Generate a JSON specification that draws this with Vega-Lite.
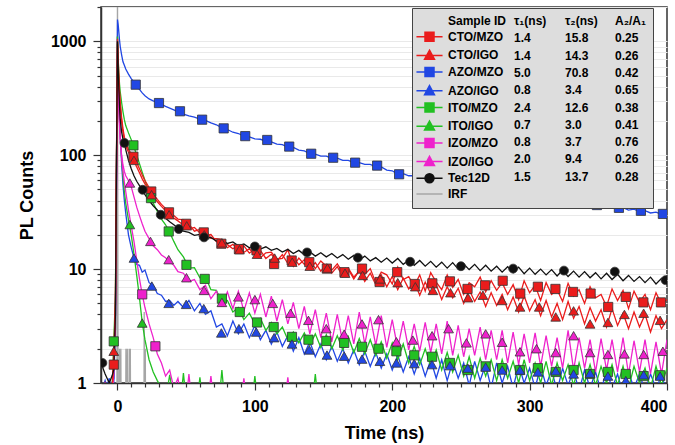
{
"$schema": "https://vega.github.io/schema/vega-lite/v6.json",
"width": 566, "height": 376,
"autosize": {"type": "none"},
"padding": {"left": 101, "top": 7, "right": 8, "bottom": 62},
"background": "white",
"config": {
  "font": "Liberation Sans",
  "view": {"stroke": "#333", "strokeWidth": 1.5},
  "legend": {"orient": "none", "direction": "vertical", "labelFont": "Liberation Sans", "labelFontSize": 12, "labelFontWeight": "bold", "labelColor": "#000", "padding": 7, "rowPadding": 5.3, "labelLimit": 400, "symbolSize": 81, "symbolStrokeWidth": 1.5, "labelOffset": 12.5}
},
"resolve": {"axis": {"x": "independent"}},
"datasets": {
"table": [
{"idx":1,"sample":"CTO/MZO","tau1":"1.4","tau2":"15.8","ratio":"0.25"},
{"idx":2,"sample":"CTO/IGO","tau1":"1.4","tau2":"14.3","ratio":"0.26"},
{"idx":3,"sample":"AZO/MZO","tau1":"5.0","tau2":"70.8","ratio":"0.42"},
{"idx":4,"sample":"AZO/IGO","tau1":"0.8","tau2":"3.4","ratio":"0.65"},
{"idx":5,"sample":"ITO/MZO","tau1":"2.4","tau2":"12.6","ratio":"0.38"},
{"idx":6,"sample":"ITO/IGO","tau1":"0.7","tau2":"3.0","ratio":"0.41"},
{"idx":7,"sample":"IZO/MZO","tau1":"0.8","tau2":"3.7","ratio":"0.76"},
{"idx":8,"sample":"IZO/IGO","tau1":"2.0","tau2":"9.4","ratio":"0.26"},
{"idx":9,"sample":"Tec12D","tau1":"1.5","tau2":"13.7","ratio":"0.28"},
{"idx":10,"sample":"IRF","tau1":"","tau2":"","ratio":""}
],
"markers": [
{"sample":"CTO/MZO","t":-2.7,"v":1.45},{"sample":"CTO/MZO","t":11.6,"v":97},{"sample":"CTO/MZO","t":24.6,"v":48},{"sample":"CTO/MZO","t":37.5,"v":31.5},{"sample":"CTO/MZO","t":50,"v":25},{"sample":"CTO/MZO","t":62.8,"v":21},{"sample":"CTO/MZO","t":75.6,"v":16.7},{"sample":"CTO/MZO","t":88.4,"v":15},{"sample":"CTO/MZO","t":101.2,"v":14.6},{"sample":"CTO/MZO","t":114,"v":11.1},{"sample":"CTO/MZO","t":126.8,"v":11.9},{"sample":"CTO/MZO","t":139.6,"v":11.5},{"sample":"CTO/MZO","t":152.4,"v":10.1},{"sample":"CTO/MZO","t":165.2,"v":9.4},{"sample":"CTO/MZO","t":178,"v":10.1},{"sample":"CTO/MZO","t":190.8,"v":7.7},{"sample":"CTO/MZO","t":203.6,"v":9.4},{"sample":"CTO/MZO","t":216.4,"v":7.4},{"sample":"CTO/MZO","t":229.2,"v":7.5},{"sample":"CTO/MZO","t":242,"v":7.8},{"sample":"CTO/MZO","t":254.8,"v":6.7},{"sample":"CTO/MZO","t":267.6,"v":7.2},{"sample":"CTO/MZO","t":280.4,"v":7.9},{"sample":"CTO/MZO","t":293.2,"v":6.1},{"sample":"CTO/MZO","t":306,"v":7.0},{"sample":"CTO/MZO","t":318.8,"v":6.7},{"sample":"CTO/MZO","t":331.6,"v":6.3},{"sample":"CTO/MZO","t":344.4,"v":6.1},{"sample":"CTO/MZO","t":357.2,"v":4.65},{"sample":"CTO/MZO","t":370,"v":5.7},{"sample":"CTO/MZO","t":382.8,"v":5.1},{"sample":"CTO/MZO","t":395.6,"v":5.1},
{"sample":"CTO/IGO","t":-2.7,"v":1.9},{"sample":"CTO/IGO","t":12,"v":90},{"sample":"CTO/IGO","t":24.8,"v":45},{"sample":"CTO/IGO","t":37.6,"v":30},{"sample":"CTO/IGO","t":50.4,"v":24},{"sample":"CTO/IGO","t":63.2,"v":20},{"sample":"CTO/IGO","t":76,"v":17},{"sample":"CTO/IGO","t":88.8,"v":14.8},{"sample":"CTO/IGO","t":101.6,"v":13.5},{"sample":"CTO/IGO","t":114.4,"v":12.5},{"sample":"CTO/IGO","t":127.2,"v":11.5},{"sample":"CTO/IGO","t":140,"v":10.6},{"sample":"CTO/IGO","t":152.8,"v":10.2},{"sample":"CTO/IGO","t":165.6,"v":9.2},{"sample":"CTO/IGO","t":178.4,"v":8.8},{"sample":"CTO/IGO","t":191.2,"v":8.2},{"sample":"CTO/IGO","t":204,"v":7.6},{"sample":"CTO/IGO","t":216.8,"v":7.0},{"sample":"CTO/IGO","t":229.6,"v":6.5},{"sample":"CTO/IGO","t":242.4,"v":6.2},{"sample":"CTO/IGO","t":255.2,"v":5.6},{"sample":"CTO/IGO","t":266,"v":5.9},{"sample":"CTO/IGO","t":280,"v":5.3},{"sample":"CTO/IGO","t":293,"v":4.65},{"sample":"CTO/IGO","t":307,"v":4.65},{"sample":"CTO/IGO","t":319,"v":3.8},{"sample":"CTO/IGO","t":332,"v":4.3},{"sample":"CTO/IGO","t":344,"v":3.3},{"sample":"CTO/IGO","t":357,"v":3.4},{"sample":"CTO/IGO","t":369,"v":4.0},{"sample":"CTO/IGO","t":383,"v":4.1},{"sample":"CTO/IGO","t":395,"v":3.55},
{"sample":"AZO/MZO","t":13.3,"v":416},{"sample":"AZO/MZO","t":30.2,"v":287},{"sample":"AZO/MZO","t":45.5,"v":243},{"sample":"AZO/MZO","t":61.6,"v":205},{"sample":"AZO/MZO","t":77.3,"v":172},{"sample":"AZO/MZO","t":93,"v":147},{"sample":"AZO/MZO","t":109,"v":136},{"sample":"AZO/MZO","t":125,"v":119},{"sample":"AZO/MZO","t":141,"v":103},{"sample":"AZO/MZO","t":157,"v":95},{"sample":"AZO/MZO","t":173,"v":86},{"sample":"AZO/MZO","t":189,"v":81},{"sample":"AZO/MZO","t":205,"v":68},{"sample":"AZO/MZO","t":221,"v":64},{"sample":"AZO/MZO","t":237,"v":60},{"sample":"AZO/MZO","t":253,"v":56},{"sample":"AZO/MZO","t":269,"v":52},{"sample":"AZO/MZO","t":285,"v":48},{"sample":"AZO/MZO","t":301,"v":45},{"sample":"AZO/MZO","t":317,"v":42},{"sample":"AZO/MZO","t":333,"v":39},{"sample":"AZO/MZO","t":349,"v":36.5},{"sample":"AZO/MZO","t":365,"v":34.5},{"sample":"AZO/MZO","t":381,"v":32.5},{"sample":"AZO/MZO","t":397,"v":30.5},
{"sample":"AZO/IGO","t":12,"v":12.5},{"sample":"AZO/IGO","t":25,"v":7.1},{"sample":"AZO/IGO","t":37.3,"v":5.0},{"sample":"AZO/IGO","t":50,"v":4.9},{"sample":"AZO/IGO","t":62.8,"v":4.5},{"sample":"AZO/IGO","t":75.6,"v":2.75},{"sample":"AZO/IGO","t":88.4,"v":3.0},{"sample":"AZO/IGO","t":101,"v":2.8},{"sample":"AZO/IGO","t":114,"v":2.5},{"sample":"AZO/IGO","t":127,"v":2.2},{"sample":"AZO/IGO","t":139.6,"v":1.95},{"sample":"AZO/IGO","t":152.5,"v":1.76},{"sample":"AZO/IGO","t":165,"v":1.72},{"sample":"AZO/IGO","t":178,"v":1.62},{"sample":"AZO/IGO","t":191,"v":1.55},{"sample":"AZO/IGO","t":203,"v":1.5},{"sample":"AZO/IGO","t":216,"v":1.48},{"sample":"AZO/IGO","t":229,"v":1.45},{"sample":"AZO/IGO","t":242,"v":1.42},{"sample":"AZO/IGO","t":255,"v":1.35},{"sample":"AZO/IGO","t":268,"v":1.38},{"sample":"AZO/IGO","t":280,"v":1.3},{"sample":"AZO/IGO","t":293,"v":1.3},{"sample":"AZO/IGO","t":306,"v":1.25},{"sample":"AZO/IGO","t":319,"v":1.28},{"sample":"AZO/IGO","t":332,"v":1.2},{"sample":"AZO/IGO","t":344,"v":1.22},{"sample":"AZO/IGO","t":357,"v":1.15},{"sample":"AZO/IGO","t":370,"v":1.05},{"sample":"AZO/IGO","t":383,"v":1.18},{"sample":"AZO/IGO","t":395,"v":1.15},
{"sample":"ITO/MZO","t":-2.7,"v":2.32},{"sample":"ITO/MZO","t":11.6,"v":122},{"sample":"ITO/MZO","t":24.4,"v":42},{"sample":"ITO/MZO","t":37.3,"v":21.4},{"sample":"ITO/MZO","t":50.2,"v":10.9},{"sample":"ITO/MZO","t":63.5,"v":8.2},{"sample":"ITO/MZO","t":76,"v":5.5},{"sample":"ITO/MZO","t":89,"v":4.2},{"sample":"ITO/MZO","t":101.6,"v":3.4},{"sample":"ITO/MZO","t":113.7,"v":3.1},{"sample":"ITO/MZO","t":127,"v":2.54},{"sample":"ITO/MZO","t":139,"v":2.4},{"sample":"ITO/MZO","t":152,"v":2.34},{"sample":"ITO/MZO","t":165,"v":2.25},{"sample":"ITO/MZO","t":178,"v":2.08},{"sample":"ITO/MZO","t":190,"v":2.0},{"sample":"ITO/MZO","t":203,"v":1.9},{"sample":"ITO/MZO","t":216,"v":1.75},{"sample":"ITO/MZO","t":229,"v":1.7},{"sample":"ITO/MZO","t":242,"v":1.5},{"sample":"ITO/MZO","t":255,"v":1.3},{"sample":"ITO/MZO","t":268,"v":1.4},{"sample":"ITO/MZO","t":280,"v":1.35},{"sample":"ITO/MZO","t":293,"v":1.3},{"sample":"ITO/MZO","t":306,"v":1.35},{"sample":"ITO/MZO","t":319,"v":1.25},{"sample":"ITO/MZO","t":332,"v":1.3},{"sample":"ITO/MZO","t":344,"v":1.2},{"sample":"ITO/MZO","t":357,"v":1.25},{"sample":"ITO/MZO","t":370,"v":1.2},{"sample":"ITO/MZO","t":383,"v":1.15},{"sample":"ITO/MZO","t":395,"v":1.17},
{"sample":"ITO/IGO","t":9,"v":24.6},{"sample":"ITO/IGO","t":18,"v":3.36},
{"sample":"IZO/MZO","t":18,"v":6.0},{"sample":"IZO/MZO","t":27.6,"v":2.1},
{"sample":"IZO/IGO","t":9,"v":57},{"sample":"IZO/IGO","t":24,"v":17.5},{"sample":"IZO/IGO","t":37.3,"v":12.1},{"sample":"IZO/IGO","t":50.2,"v":8.4},{"sample":"IZO/IGO","t":63,"v":6.5},{"sample":"IZO/IGO","t":76,"v":5.1},{"sample":"IZO/IGO","t":88,"v":5.7},{"sample":"IZO/IGO","t":100,"v":5.4},{"sample":"IZO/IGO","t":113,"v":5.0},{"sample":"IZO/IGO","t":126,"v":4.1},{"sample":"IZO/IGO","t":139,"v":3.55},{"sample":"IZO/IGO","t":152,"v":3.0},{"sample":"IZO/IGO","t":165,"v":2.68},{"sample":"IZO/IGO","t":178,"v":3.3},{"sample":"IZO/IGO","t":190,"v":3.6},{"sample":"IZO/IGO","t":203,"v":2.3},{"sample":"IZO/IGO","t":215,"v":2.38},{"sample":"IZO/IGO","t":229,"v":2.6},{"sample":"IZO/IGO","t":241,"v":3.0},{"sample":"IZO/IGO","t":254,"v":2.25},{"sample":"IZO/IGO","t":268,"v":2.7},{"sample":"IZO/IGO","t":280,"v":2.28},{"sample":"IZO/IGO","t":293,"v":1.88},{"sample":"IZO/IGO","t":305,"v":2.0},{"sample":"IZO/IGO","t":319,"v":1.85},{"sample":"IZO/IGO","t":332,"v":2.6},{"sample":"IZO/IGO","t":344,"v":1.85},{"sample":"IZO/IGO","t":357,"v":1.78},{"sample":"IZO/IGO","t":369,"v":1.8},{"sample":"IZO/IGO","t":383,"v":1.78},{"sample":"IZO/IGO","t":397,"v":1.9},
{"sample":"Tec12D","t":-11,"v":1.5},{"sample":"Tec12D","t":5.1,"v":128},{"sample":"Tec12D","t":18.3,"v":49.7},{"sample":"Tec12D","t":31.5,"v":30},{"sample":"Tec12D","t":44.6,"v":22.5},{"sample":"Tec12D","t":63,"v":19},{"sample":"Tec12D","t":100,"v":15.8},{"sample":"Tec12D","t":138,"v":14},{"sample":"Tec12D","t":175,"v":12.6},{"sample":"Tec12D","t":213,"v":11.6},{"sample":"Tec12D","t":250,"v":10.6},{"sample":"Tec12D","t":288,"v":10.1},{"sample":"Tec12D","t":325,"v":9.7},{"sample":"Tec12D","t":362,"v":9.5},{"sample":"Tec12D","t":399,"v":8.0}
],
"curves": [
{"sample":"IRF","t":-12,"v":0.7},{"sample":"IRF","t":-0.4,"v":0.7},{"sample":"IRF","t":0,"v":5000},{"sample":"IRF","t":0.4,"v":0.7},{"sample":"IRF","t":1.3,"v":0.7},{"sample":"IRF","t":1.45,"v":2},{"sample":"IRF","t":1.6,"v":0.7},{"sample":"IRF","t":2.3,"v":0.7},{"sample":"IRF","t":2.45,"v":2},{"sample":"IRF","t":2.6,"v":0.7},{"sample":"IRF","t":6.0,"v":0.7},{"sample":"IRF","t":6.15,"v":2},{"sample":"IRF","t":6.3,"v":0.7},{"sample":"IRF","t":7.0,"v":0.7},{"sample":"IRF","t":7.15,"v":2},{"sample":"IRF","t":7.3,"v":0.7},{"sample":"IRF","t":8.4,"v":0.7},{"sample":"IRF","t":8.55,"v":2},{"sample":"IRF","t":8.7,"v":0.7},{"sample":"IRF","t":9.2,"v":0.7},{"sample":"IRF","t":9.35,"v":2},{"sample":"IRF","t":9.5,"v":0.7},{"sample":"IRF","t":19.3,"v":0.7},{"sample":"IRF","t":19.45,"v":4.2},{"sample":"IRF","t":19.6,"v":0.7},{"sample":"IRF","t":20.1,"v":0.7},{"sample":"IRF","t":20.25,"v":2},{"sample":"IRF","t":20.4,"v":0.7},{"sample":"IRF","t":400,"v":0.7},

{"sample":"AZO/MZO","t":-12,"v":1.0},{"sample":"AZO/MZO","t":-9,"v":0.8},{"sample":"AZO/MZO","t":-6,"v":1.1},{"sample":"AZO/MZO","t":-4,"v":0.8},{"sample":"AZO/MZO","t":-2.7,"v":1.0},{"sample":"AZO/MZO","t":-1.5,"v":3},{"sample":"AZO/MZO","t":-0.7,"v":80},{"sample":"AZO/MZO","t":0,"v":1550},{"sample":"AZO/MZO","t":0.5,"v":1400},{"sample":"AZO/MZO","t":1,"v":1200},{"sample":"AZO/MZO","t":1.5,"v":1020},{"sample":"AZO/MZO","t":2,"v":900},{"sample":"AZO/MZO","t":3,"v":760},{"sample":"AZO/MZO","t":4,"v":660},{"sample":"AZO/MZO","t":5,"v":615},{"sample":"AZO/MZO","t":6,"v":570},{"sample":"AZO/MZO","t":8,"v":515},{"sample":"AZO/MZO","t":10,"v":470},{"sample":"AZO/MZO","t":12,"v":435},{"sample":"AZO/MZO","t":14,"v":405},{"sample":"AZO/MZO","t":16,"v":378},{"sample":"AZO/MZO","t":18,"v":352},{"sample":"AZO/MZO","t":20,"v":333},{"sample":"AZO/MZO","t":23,"v":312},{"sample":"AZO/MZO","t":26,"v":300},{"sample":"AZO/MZO","t":29,"v":291},{"sample":"AZO/MZO","t":32,"v":279},{"sample":"AZO/MZO","t":35,"v":268},{"sample":"AZO/MZO","t":38,"v":259},{"sample":"AZO/MZO","t":41,"v":250},{"sample":"AZO/MZO","t":44,"v":240},
{"sample":"AZO/MZO","t":48,"v":229},{"sample":"AZO/MZO","t":52,"v":221},{"sample":"AZO/MZO","t":56,"v":216},{"sample":"AZO/MZO","t":60,"v":207},{"sample":"AZO/MZO","t":64,"v":202},{"sample":"AZO/MZO","t":68,"v":192},{"sample":"AZO/MZO","t":72,"v":185},{"sample":"AZO/MZO","t":76,"v":174},{"sample":"AZO/MZO","t":80,"v":168},{"sample":"AZO/MZO","t":84,"v":159},{"sample":"AZO/MZO","t":88,"v":155},{"sample":"AZO/MZO","t":92,"v":147},{"sample":"AZO/MZO","t":96,"v":145},{"sample":"AZO/MZO","t":100,"v":139},{"sample":"AZO/MZO","t":104,"v":138},{"sample":"AZO/MZO","t":108,"v":133},{"sample":"AZO/MZO","t":112,"v":131},{"sample":"AZO/MZO","t":116,"v":125},{"sample":"AZO/MZO","t":120,"v":124},{"sample":"AZO/MZO","t":124,"v":118},{"sample":"AZO/MZO","t":128,"v":117},{"sample":"AZO/MZO","t":132,"v":111},{"sample":"AZO/MZO","t":136,"v":109},{"sample":"AZO/MZO","t":140,"v":103},{"sample":"AZO/MZO","t":144,"v":102},{"sample":"AZO/MZO","t":148,"v":98},{"sample":"AZO/MZO","t":152,"v":98},{"sample":"AZO/MZO","t":156,"v":94},{"sample":"AZO/MZO","t":160,"v":94},{"sample":"AZO/MZO","t":164,"v":90},{"sample":"AZO/MZO","t":168,"v":90},{"sample":"AZO/MZO","t":172,"v":86},{"sample":"AZO/MZO","t":176,"v":86},{"sample":"AZO/MZO","t":180,"v":83},{"sample":"AZO/MZO","t":184,"v":83},{"sample":"AZO/MZO","t":188,"v":79},{"sample":"AZO/MZO","t":192,"v":79},{"sample":"AZO/MZO","t":196,"v":74},{"sample":"AZO/MZO","t":200,"v":73},{"sample":"AZO/MZO","t":204,"v":68},{"sample":"AZO/MZO","t":208,"v":69},{"sample":"AZO/MZO","t":212,"v":66},{"sample":"AZO/MZO","t":216,"v":66},{"sample":"AZO/MZO","t":220,"v":63},{"sample":"AZO/MZO","t":224,"v":64},{"sample":"AZO/MZO","t":228,"v":61},{"sample":"AZO/MZO","t":232,"v":62},{"sample":"AZO/MZO","t":236,"v":59},{"sample":"AZO/MZO","t":240,"v":60},{"sample":"AZO/MZO","t":244,"v":57},{"sample":"AZO/MZO","t":248,"v":58},{"sample":"AZO/MZO","t":252,"v":55},{"sample":"AZO/MZO","t":256,"v":56},{"sample":"AZO/MZO","t":260,"v":53},{"sample":"AZO/MZO","t":264,"v":54},{"sample":"AZO/MZO","t":268,"v":51},{"sample":"AZO/MZO","t":272,"v":52},{"sample":"AZO/MZO","t":276,"v":49},{"sample":"AZO/MZO","t":280,"v":50},{"sample":"AZO/MZO","t":284,"v":47.5},{"sample":"AZO/MZO","t":288,"v":48.5},{"sample":"AZO/MZO","t":292,"v":45.8},{"sample":"AZO/MZO","t":296,"v":46.6},{"sample":"AZO/MZO","t":300,"v":44.3},{"sample":"AZO/MZO","t":304,"v":44.8},{"sample":"AZO/MZO","t":308,"v":42.9},{"sample":"AZO/MZO","t":312,"v":43.2},{"sample":"AZO/MZO","t":316,"v":41.4},{"sample":"AZO/MZO","t":320,"v":41.8},{"sample":"AZO/MZO","t":324,"v":39.9},{"sample":"AZO/MZO","t":328,"v":40.2},{"sample":"AZO/MZO","t":332,"v":38.5},{"sample":"AZO/MZO","t":336,"v":39.1},{"sample":"AZO/MZO","t":340,"v":37.0},{"sample":"AZO/MZO","t":344,"v":37.6},{"sample":"AZO/MZO","t":348,"v":36.0},{"sample":"AZO/MZO","t":352,"v":36.6},{"sample":"AZO/MZO","t":356,"v":35.0},{"sample":"AZO/MZO","t":360,"v":35.6},{"sample":"AZO/MZO","t":364,"v":34.0},{"sample":"AZO/MZO","t":368,"v":34.6},{"sample":"AZO/MZO","t":372,"v":33.0},{"sample":"AZO/MZO","t":376,"v":33.6},{"sample":"AZO/MZO","t":380,"v":32.0},{"sample":"AZO/MZO","t":384,"v":32.6},{"sample":"AZO/MZO","t":388,"v":31.1},{"sample":"AZO/MZO","t":392,"v":31.6},{"sample":"AZO/MZO","t":396,"v":30.2},{"sample":"AZO/MZO","t":400,"v":30.7},

{"sample":"AZO/IGO","t":-12,"v":0.8},{"sample":"AZO/IGO","t":-9,"v":1.05},{"sample":"AZO/IGO","t":-6,"v":0.8},{"sample":"AZO/IGO","t":-4,"v":1.0},{"sample":"AZO/IGO","t":-2.7,"v":1.1},{"sample":"AZO/IGO","t":-1.5,"v":4},{"sample":"AZO/IGO","t":-0.7,"v":90},{"sample":"AZO/IGO","t":0,"v":1100},{"sample":"AZO/IGO","t":0.5,"v":600},{"sample":"AZO/IGO","t":1,"v":350},{"sample":"AZO/IGO","t":1.5,"v":220},{"sample":"AZO/IGO","t":2,"v":150},{"sample":"AZO/IGO","t":3,"v":85},{"sample":"AZO/IGO","t":4,"v":55},{"sample":"AZO/IGO","t":5,"v":40},{"sample":"AZO/IGO","t":6,"v":31},{"sample":"AZO/IGO","t":8,"v":20},{"sample":"AZO/IGO","t":10,"v":15.5},{"sample":"AZO/IGO","t":12,"v":12.5},{"sample":"AZO/IGO","t":14,"v":11},{"sample":"AZO/IGO","t":16,"v":10.8},{"sample":"AZO/IGO","t":18,"v":9.4},{"sample":"AZO/IGO","t":20,"v":9.8},{"sample":"AZO/IGO","t":23,"v":7.6},{"sample":"AZO/IGO","t":26,"v":7.2},{"sample":"AZO/IGO","t":29,"v":6.1},{"sample":"AZO/IGO","t":32,"v":5.9},{"sample":"AZO/IGO","t":35,"v":5.2},{"sample":"AZO/IGO","t":38,"v":5.3},{"sample":"AZO/IGO","t":41,"v":4.8},{"sample":"AZO/IGO","t":44,"v":5.2},
{"sample":"AZO/IGO","t":48,"v":4.6},{"sample":"AZO/IGO","t":52,"v":5.3},{"sample":"AZO/IGO","t":56,"v":4.3},{"sample":"AZO/IGO","t":60,"v":5.0},{"sample":"AZO/IGO","t":64,"v":4.0},{"sample":"AZO/IGO","t":68,"v":4.3},{"sample":"AZO/IGO","t":72,"v":3.1},{"sample":"AZO/IGO","t":76,"v":3.3},{"sample":"AZO/IGO","t":80,"v":2.6},{"sample":"AZO/IGO","t":84,"v":3.5},{"sample":"AZO/IGO","t":88,"v":2.7},{"sample":"AZO/IGO","t":92,"v":3.3},{"sample":"AZO/IGO","t":96,"v":2.5},{"sample":"AZO/IGO","t":100,"v":3.2},{"sample":"AZO/IGO","t":104,"v":2.4},{"sample":"AZO/IGO","t":108,"v":2.9},{"sample":"AZO/IGO","t":112,"v":2.2},{"sample":"AZO/IGO","t":116,"v":2.8},{"sample":"AZO/IGO","t":120,"v":2.1},{"sample":"AZO/IGO","t":124,"v":2.6},{"sample":"AZO/IGO","t":128,"v":1.9},{"sample":"AZO/IGO","t":132,"v":2.5},{"sample":"AZO/IGO","t":136,"v":1.8},{"sample":"AZO/IGO","t":140,"v":2.3},{"sample":"AZO/IGO","t":144,"v":1.7},{"sample":"AZO/IGO","t":148,"v":2.2},{"sample":"AZO/IGO","t":152,"v":1.6},{"sample":"AZO/IGO","t":156,"v":2.1},{"sample":"AZO/IGO","t":160,"v":1.55},{"sample":"AZO/IGO","t":164,"v":2.0},{"sample":"AZO/IGO","t":168,"v":1.5},{"sample":"AZO/IGO","t":172,"v":1.95},{"sample":"AZO/IGO","t":176,"v":1.45},{"sample":"AZO/IGO","t":180,"v":1.9},{"sample":"AZO/IGO","t":184,"v":1.4},{"sample":"AZO/IGO","t":188,"v":1.85},{"sample":"AZO/IGO","t":192,"v":1.35},{"sample":"AZO/IGO","t":196,"v":1.8},{"sample":"AZO/IGO","t":200,"v":1.3},{"sample":"AZO/IGO","t":204,"v":1.75},{"sample":"AZO/IGO","t":208,"v":1.25},{"sample":"AZO/IGO","t":212,"v":1.7},{"sample":"AZO/IGO","t":216,"v":1.2},{"sample":"AZO/IGO","t":220,"v":1.65},{"sample":"AZO/IGO","t":224,"v":1.15},{"sample":"AZO/IGO","t":228,"v":1.6},{"sample":"AZO/IGO","t":232,"v":1.1},{"sample":"AZO/IGO","t":236,"v":1.6},{"sample":"AZO/IGO","t":240,"v":1.05},{"sample":"AZO/IGO","t":244,"v":1.55},{"sample":"AZO/IGO","t":248,"v":1.1},{"sample":"AZO/IGO","t":252,"v":1.5},{"sample":"AZO/IGO","t":256,"v":0.95},{"sample":"AZO/IGO","t":260,"v":1.55},{"sample":"AZO/IGO","t":264,"v":1.05},{"sample":"AZO/IGO","t":268,"v":1.45},{"sample":"AZO/IGO","t":272,"v":0.9},{"sample":"AZO/IGO","t":276,"v":1.5},{"sample":"AZO/IGO","t":280,"v":1.0},{"sample":"AZO/IGO","t":284,"v":1.4},{"sample":"AZO/IGO","t":288,"v":0.9},{"sample":"AZO/IGO","t":292,"v":1.45},{"sample":"AZO/IGO","t":296,"v":1.0},{"sample":"AZO/IGO","t":300,"v":1.35},{"sample":"AZO/IGO","t":304,"v":0.9},{"sample":"AZO/IGO","t":308,"v":1.4},{"sample":"AZO/IGO","t":312,"v":0.95},{"sample":"AZO/IGO","t":316,"v":1.3},{"sample":"AZO/IGO","t":320,"v":0.85},{"sample":"AZO/IGO","t":324,"v":1.35},{"sample":"AZO/IGO","t":328,"v":0.95},{"sample":"AZO/IGO","t":332,"v":1.3},{"sample":"AZO/IGO","t":336,"v":0.85},{"sample":"AZO/IGO","t":340,"v":1.3},{"sample":"AZO/IGO","t":344,"v":0.9},{"sample":"AZO/IGO","t":348,"v":1.25},{"sample":"AZO/IGO","t":352,"v":0.85},{"sample":"AZO/IGO","t":356,"v":1.3},{"sample":"AZO/IGO","t":360,"v":0.9},{"sample":"AZO/IGO","t":364,"v":1.2},{"sample":"AZO/IGO","t":368,"v":0.8},{"sample":"AZO/IGO","t":372,"v":1.25},{"sample":"AZO/IGO","t":376,"v":0.9},{"sample":"AZO/IGO","t":380,"v":1.2},{"sample":"AZO/IGO","t":384,"v":0.85},{"sample":"AZO/IGO","t":388,"v":1.2},{"sample":"AZO/IGO","t":392,"v":0.9},{"sample":"AZO/IGO","t":396,"v":1.15},{"sample":"AZO/IGO","t":400,"v":0.85},

{"sample":"ITO/IGO","t":-12,"v":0.7},{"sample":"ITO/IGO","t":-9,"v":0.8},{"sample":"ITO/IGO","t":-6,"v":0.7},{"sample":"ITO/IGO","t":-4,"v":0.8},{"sample":"ITO/IGO","t":-2.7,"v":1.3},{"sample":"ITO/IGO","t":-1.5,"v":3},{"sample":"ITO/IGO","t":-0.7,"v":60},{"sample":"ITO/IGO","t":0,"v":950},{"sample":"ITO/IGO","t":0.5,"v":500},{"sample":"ITO/IGO","t":1,"v":300},{"sample":"ITO/IGO","t":1.5,"v":200},{"sample":"ITO/IGO","t":2,"v":150},{"sample":"ITO/IGO","t":3,"v":95},{"sample":"ITO/IGO","t":4,"v":65},{"sample":"ITO/IGO","t":5,"v":48},{"sample":"ITO/IGO","t":6,"v":38},{"sample":"ITO/IGO","t":8,"v":27},{"sample":"ITO/IGO","t":10,"v":20},{"sample":"ITO/IGO","t":12,"v":13.5},{"sample":"ITO/IGO","t":14,"v":8.8},{"sample":"ITO/IGO","t":16,"v":5.6},{"sample":"ITO/IGO","t":18,"v":3.4},{"sample":"ITO/IGO","t":20,"v":2.4},{"sample":"ITO/IGO","t":23,"v":1.6},{"sample":"ITO/IGO","t":26,"v":1.25},{"sample":"ITO/IGO","t":29,"v":1.05},{"sample":"ITO/IGO","t":32,"v":0.9},{"sample":"ITO/IGO","t":35,"v":0.7},{"sample":"ITO/IGO","t":38,"v":1.18},{"sample":"ITO/IGO","t":41,"v":0.7},{"sample":"ITO/IGO","t":46,"v":0.7},{"sample":"ITO/IGO","t":48,"v":1.22},{"sample":"ITO/IGO","t":50,"v":0.7},{"sample":"ITO/IGO","t":58,"v":0.7},{"sample":"ITO/IGO","t":60,"v":1.12},{"sample":"ITO/IGO","t":62,"v":0.7},{"sample":"ITO/IGO","t":74,"v":0.7},{"sample":"ITO/IGO","t":76,"v":1.3},{"sample":"ITO/IGO","t":78,"v":0.7},{"sample":"ITO/IGO","t":98,"v":0.7},{"sample":"ITO/IGO","t":100,"v":1.15},{"sample":"ITO/IGO","t":102,"v":0.7},{"sample":"ITO/IGO","t":142,"v":0.7},{"sample":"ITO/IGO","t":144,"v":1.2},{"sample":"ITO/IGO","t":146,"v":0.7},{"sample":"ITO/IGO","t":400,"v":0.7},

{"sample":"IZO/MZO","t":-12,"v":0.7},{"sample":"IZO/MZO","t":-9,"v":0.7},{"sample":"IZO/MZO","t":-6,"v":0.8},{"sample":"IZO/MZO","t":-4,"v":0.7},{"sample":"IZO/MZO","t":-2.7,"v":1.2},{"sample":"IZO/MZO","t":-1.5,"v":3},{"sample":"IZO/MZO","t":-0.7,"v":50},{"sample":"IZO/MZO","t":0,"v":900},{"sample":"IZO/MZO","t":0.5,"v":450},{"sample":"IZO/MZO","t":1,"v":280},{"sample":"IZO/MZO","t":1.5,"v":190},{"sample":"IZO/MZO","t":2,"v":140},{"sample":"IZO/MZO","t":3,"v":95},{"sample":"IZO/MZO","t":4,"v":72},{"sample":"IZO/MZO","t":5,"v":58},{"sample":"IZO/MZO","t":6,"v":48},{"sample":"IZO/MZO","t":8,"v":33},{"sample":"IZO/MZO","t":10,"v":24},{"sample":"IZO/MZO","t":12,"v":17.5},{"sample":"IZO/MZO","t":14,"v":12},{"sample":"IZO/MZO","t":16,"v":8.2},{"sample":"IZO/MZO","t":18,"v":6.0},{"sample":"IZO/MZO","t":20,"v":4.6},{"sample":"IZO/MZO","t":23,"v":3.3},{"sample":"IZO/MZO","t":26,"v":2.5},{"sample":"IZO/MZO","t":29,"v":1.8},{"sample":"IZO/MZO","t":32,"v":1.5},{"sample":"IZO/MZO","t":35,"v":1.15},{"sample":"IZO/MZO","t":38,"v":1.3},{"sample":"IZO/MZO","t":41,"v":0.9},{"sample":"IZO/MZO","t":44,"v":1.1},{"sample":"IZO/MZO","t":47,"v":0.7},{"sample":"IZO/MZO","t":50,"v":0.7},{"sample":"IZO/MZO","t":52,"v":1.2},{"sample":"IZO/MZO","t":54,"v":0.7},{"sample":"IZO/MZO","t":66,"v":0.7},{"sample":"IZO/MZO","t":68,"v":1.15},{"sample":"IZO/MZO","t":70,"v":0.7},{"sample":"IZO/MZO","t":90,"v":0.7},{"sample":"IZO/MZO","t":92,"v":1.1},{"sample":"IZO/MZO","t":94,"v":0.7},{"sample":"IZO/MZO","t":122,"v":0.7},{"sample":"IZO/MZO","t":124,"v":1.12},{"sample":"IZO/MZO","t":126,"v":0.7},{"sample":"IZO/MZO","t":400,"v":0.7},

{"sample":"ITO/MZO","t":-12,"v":0.8},{"sample":"ITO/MZO","t":-9,"v":0.7},{"sample":"ITO/MZO","t":-6,"v":1.0},{"sample":"ITO/MZO","t":-4,"v":0.8},{"sample":"ITO/MZO","t":-2.7,"v":2.3},{"sample":"ITO/MZO","t":-1.5,"v":6},{"sample":"ITO/MZO","t":-0.7,"v":100},{"sample":"ITO/MZO","t":0,"v":1100},{"sample":"ITO/MZO","t":0.5,"v":700},{"sample":"ITO/MZO","t":1,"v":520},{"sample":"ITO/MZO","t":1.5,"v":420},{"sample":"ITO/MZO","t":2,"v":360},{"sample":"ITO/MZO","t":3,"v":290},{"sample":"ITO/MZO","t":4,"v":240},{"sample":"ITO/MZO","t":5,"v":205},{"sample":"ITO/MZO","t":6,"v":182},{"sample":"ITO/MZO","t":8,"v":157},{"sample":"ITO/MZO","t":10,"v":137},{"sample":"ITO/MZO","t":12,"v":118},{"sample":"ITO/MZO","t":14,"v":100},{"sample":"ITO/MZO","t":16,"v":84},{"sample":"ITO/MZO","t":18,"v":71},{"sample":"ITO/MZO","t":20,"v":60},{"sample":"ITO/MZO","t":23,"v":47},{"sample":"ITO/MZO","t":26,"v":38},{"sample":"ITO/MZO","t":29,"v":32},{"sample":"ITO/MZO","t":32,"v":27.5},{"sample":"ITO/MZO","t":35,"v":24.5},{"sample":"ITO/MZO","t":38,"v":21},{"sample":"ITO/MZO","t":41,"v":17.5},{"sample":"ITO/MZO","t":44,"v":14.8},
{"sample":"ITO/MZO","t":48,"v":12.8},{"sample":"ITO/MZO","t":52,"v":10.2},{"sample":"ITO/MZO","t":56,"v":10.3},{"sample":"ITO/MZO","t":60,"v":8.4},{"sample":"ITO/MZO","t":64,"v":8.6},{"sample":"ITO/MZO","t":68,"v":6.6},{"sample":"ITO/MZO","t":72,"v":6.5},{"sample":"ITO/MZO","t":76,"v":5.1},{"sample":"ITO/MZO","t":80,"v":5.3},{"sample":"ITO/MZO","t":84,"v":4.2},{"sample":"ITO/MZO","t":88,"v":4.6},{"sample":"ITO/MZO","t":92,"v":3.6},{"sample":"ITO/MZO","t":96,"v":4.1},{"sample":"ITO/MZO","t":100,"v":3.3},{"sample":"ITO/MZO","t":104,"v":3.7},{"sample":"ITO/MZO","t":108,"v":2.9},{"sample":"ITO/MZO","t":112,"v":3.4},{"sample":"ITO/MZO","t":116,"v":2.7},{"sample":"ITO/MZO","t":120,"v":3.1},{"sample":"ITO/MZO","t":124,"v":2.4},{"sample":"ITO/MZO","t":128,"v":2.8},{"sample":"ITO/MZO","t":132,"v":2.25},{"sample":"ITO/MZO","t":136,"v":2.75},{"sample":"ITO/MZO","t":140,"v":2.15},{"sample":"ITO/MZO","t":144,"v":2.7},{"sample":"ITO/MZO","t":148,"v":2.05},{"sample":"ITO/MZO","t":152,"v":2.65},{"sample":"ITO/MZO","t":156,"v":2.0},{"sample":"ITO/MZO","t":160,"v":2.6},{"sample":"ITO/MZO","t":164,"v":1.95},{"sample":"ITO/MZO","t":168,"v":2.55},{"sample":"ITO/MZO","t":172,"v":1.85},{"sample":"ITO/MZO","t":176,"v":2.45},{"sample":"ITO/MZO","t":180,"v":1.8},{"sample":"ITO/MZO","t":184,"v":2.4},{"sample":"ITO/MZO","t":188,"v":1.75},{"sample":"ITO/MZO","t":192,"v":2.3},{"sample":"ITO/MZO","t":196,"v":1.65},{"sample":"ITO/MZO","t":200,"v":2.25},{"sample":"ITO/MZO","t":204,"v":1.6},{"sample":"ITO/MZO","t":208,"v":2.2},{"sample":"ITO/MZO","t":212,"v":1.5},{"sample":"ITO/MZO","t":216,"v":2.1},{"sample":"ITO/MZO","t":220,"v":1.45},{"sample":"ITO/MZO","t":224,"v":2.0},{"sample":"ITO/MZO","t":228,"v":1.4},{"sample":"ITO/MZO","t":232,"v":1.95},{"sample":"ITO/MZO","t":236,"v":1.3},{"sample":"ITO/MZO","t":240,"v":1.85},{"sample":"ITO/MZO","t":244,"v":1.25},{"sample":"ITO/MZO","t":248,"v":1.75},{"sample":"ITO/MZO","t":252,"v":1.15},{"sample":"ITO/MZO","t":256,"v":1.7},{"sample":"ITO/MZO","t":260,"v":1.1},{"sample":"ITO/MZO","t":264,"v":1.65},{"sample":"ITO/MZO","t":268,"v":1.15},{"sample":"ITO/MZO","t":272,"v":1.6},{"sample":"ITO/MZO","t":276,"v":1.05},{"sample":"ITO/MZO","t":280,"v":1.6},{"sample":"ITO/MZO","t":284,"v":1.1},{"sample":"ITO/MZO","t":288,"v":1.55},{"sample":"ITO/MZO","t":292,"v":1.0},{"sample":"ITO/MZO","t":296,"v":1.6},{"sample":"ITO/MZO","t":300,"v":1.05},{"sample":"ITO/MZO","t":304,"v":1.5},{"sample":"ITO/MZO","t":308,"v":1.0},{"sample":"ITO/MZO","t":312,"v":1.55},{"sample":"ITO/MZO","t":316,"v":0.95},{"sample":"ITO/MZO","t":320,"v":1.5},{"sample":"ITO/MZO","t":324,"v":1.05},{"sample":"ITO/MZO","t":328,"v":1.45},{"sample":"ITO/MZO","t":332,"v":0.95},{"sample":"ITO/MZO","t":336,"v":1.5},{"sample":"ITO/MZO","t":340,"v":1.0},{"sample":"ITO/MZO","t":344,"v":1.45},{"sample":"ITO/MZO","t":348,"v":0.95},{"sample":"ITO/MZO","t":352,"v":1.4},{"sample":"ITO/MZO","t":356,"v":1.0},{"sample":"ITO/MZO","t":360,"v":1.45},{"sample":"ITO/MZO","t":364,"v":0.95},{"sample":"ITO/MZO","t":368,"v":1.4},{"sample":"ITO/MZO","t":372,"v":0.9},{"sample":"ITO/MZO","t":376,"v":1.4},{"sample":"ITO/MZO","t":380,"v":1.0},{"sample":"ITO/MZO","t":384,"v":1.35},{"sample":"ITO/MZO","t":388,"v":0.9},{"sample":"ITO/MZO","t":392,"v":1.4},{"sample":"ITO/MZO","t":396,"v":0.95},{"sample":"ITO/MZO","t":400,"v":1.35},

{"sample":"IZO/IGO","t":-12,"v":0.7},{"sample":"IZO/IGO","t":-9,"v":0.8},{"sample":"IZO/IGO","t":-6,"v":0.7},{"sample":"IZO/IGO","t":-4,"v":0.8},{"sample":"IZO/IGO","t":-2.7,"v":1.3},{"sample":"IZO/IGO","t":-1.5,"v":4},{"sample":"IZO/IGO","t":-0.7,"v":60},{"sample":"IZO/IGO","t":0,"v":850},{"sample":"IZO/IGO","t":0.5,"v":420},{"sample":"IZO/IGO","t":1,"v":260},{"sample":"IZO/IGO","t":1.5,"v":180},{"sample":"IZO/IGO","t":2,"v":135},{"sample":"IZO/IGO","t":3,"v":100},{"sample":"IZO/IGO","t":4,"v":82},{"sample":"IZO/IGO","t":5,"v":72},{"sample":"IZO/IGO","t":6,"v":66},{"sample":"IZO/IGO","t":8,"v":60},{"sample":"IZO/IGO","t":10,"v":53},{"sample":"IZO/IGO","t":12,"v":43},{"sample":"IZO/IGO","t":14,"v":35},{"sample":"IZO/IGO","t":16,"v":29.5},{"sample":"IZO/IGO","t":18,"v":25},{"sample":"IZO/IGO","t":20,"v":21.5},{"sample":"IZO/IGO","t":23,"v":18.5},{"sample":"IZO/IGO","t":26,"v":16},{"sample":"IZO/IGO","t":29,"v":14.8},{"sample":"IZO/IGO","t":32,"v":13.3},{"sample":"IZO/IGO","t":35,"v":12.6},{"sample":"IZO/IGO","t":38,"v":11.6},{"sample":"IZO/IGO","t":41,"v":10.8},{"sample":"IZO/IGO","t":44,"v":9.5},
{"sample":"IZO/IGO","t":48,"v":9.2},{"sample":"IZO/IGO","t":52,"v":7.8},{"sample":"IZO/IGO","t":56,"v":8.1},{"sample":"IZO/IGO","t":60,"v":6.6},{"sample":"IZO/IGO","t":64,"v":7.2},{"sample":"IZO/IGO","t":68,"v":5.5},{"sample":"IZO/IGO","t":72,"v":6.4},{"sample":"IZO/IGO","t":76,"v":4.8},{"sample":"IZO/IGO","t":80,"v":6.3},{"sample":"IZO/IGO","t":84,"v":4.5},{"sample":"IZO/IGO","t":88,"v":6.4},{"sample":"IZO/IGO","t":92,"v":4.3},{"sample":"IZO/IGO","t":96,"v":6.2},{"sample":"IZO/IGO","t":100,"v":4.1},{"sample":"IZO/IGO","t":104,"v":6.0},{"sample":"IZO/IGO","t":108,"v":3.8},{"sample":"IZO/IGO","t":112,"v":5.8},{"sample":"IZO/IGO","t":116,"v":3.5},{"sample":"IZO/IGO","t":120,"v":5.4},{"sample":"IZO/IGO","t":124,"v":3.3},{"sample":"IZO/IGO","t":128,"v":5.1},{"sample":"IZO/IGO","t":132,"v":3.0},{"sample":"IZO/IGO","t":136,"v":4.7},{"sample":"IZO/IGO","t":140,"v":2.7},{"sample":"IZO/IGO","t":144,"v":4.4},{"sample":"IZO/IGO","t":148,"v":2.5},{"sample":"IZO/IGO","t":152,"v":4.1},{"sample":"IZO/IGO","t":156,"v":2.3},{"sample":"IZO/IGO","t":160,"v":4.0},{"sample":"IZO/IGO","t":164,"v":2.25},{"sample":"IZO/IGO","t":168,"v":3.9},{"sample":"IZO/IGO","t":172,"v":2.2},{"sample":"IZO/IGO","t":176,"v":4.2},{"sample":"IZO/IGO","t":180,"v":2.2},{"sample":"IZO/IGO","t":184,"v":3.8},{"sample":"IZO/IGO","t":188,"v":2.15},{"sample":"IZO/IGO","t":192,"v":3.9},{"sample":"IZO/IGO","t":196,"v":2.05},{"sample":"IZO/IGO","t":200,"v":3.6},{"sample":"IZO/IGO","t":204,"v":2.0},{"sample":"IZO/IGO","t":208,"v":3.5},{"sample":"IZO/IGO","t":212,"v":1.95},{"sample":"IZO/IGO","t":216,"v":3.3},{"sample":"IZO/IGO","t":220,"v":1.9},{"sample":"IZO/IGO","t":224,"v":3.4},{"sample":"IZO/IGO","t":228,"v":1.85},{"sample":"IZO/IGO","t":232,"v":3.3},{"sample":"IZO/IGO","t":236,"v":1.8},{"sample":"IZO/IGO","t":240,"v":3.5},{"sample":"IZO/IGO","t":244,"v":1.75},{"sample":"IZO/IGO","t":248,"v":3.2},{"sample":"IZO/IGO","t":252,"v":1.7},{"sample":"IZO/IGO","t":256,"v":3.0},{"sample":"IZO/IGO","t":260,"v":1.75},{"sample":"IZO/IGO","t":264,"v":3.1},{"sample":"IZO/IGO","t":268,"v":1.6},{"sample":"IZO/IGO","t":272,"v":2.9},{"sample":"IZO/IGO","t":276,"v":1.6},{"sample":"IZO/IGO","t":280,"v":2.9},{"sample":"IZO/IGO","t":284,"v":1.5},{"sample":"IZO/IGO","t":288,"v":2.8},{"sample":"IZO/IGO","t":292,"v":1.45},{"sample":"IZO/IGO","t":296,"v":2.7},{"sample":"IZO/IGO","t":300,"v":1.5},{"sample":"IZO/IGO","t":304,"v":2.75},{"sample":"IZO/IGO","t":308,"v":1.4},{"sample":"IZO/IGO","t":312,"v":2.6},{"sample":"IZO/IGO","t":316,"v":1.4},{"sample":"IZO/IGO","t":320,"v":2.5},{"sample":"IZO/IGO","t":324,"v":1.35},{"sample":"IZO/IGO","t":328,"v":2.9},{"sample":"IZO/IGO","t":332,"v":1.3},{"sample":"IZO/IGO","t":336,"v":2.5},{"sample":"IZO/IGO","t":340,"v":1.35},{"sample":"IZO/IGO","t":344,"v":2.4},{"sample":"IZO/IGO","t":348,"v":1.25},{"sample":"IZO/IGO","t":352,"v":2.45},{"sample":"IZO/IGO","t":356,"v":1.3},{"sample":"IZO/IGO","t":360,"v":2.4},{"sample":"IZO/IGO","t":364,"v":1.25},{"sample":"IZO/IGO","t":368,"v":2.5},{"sample":"IZO/IGO","t":372,"v":1.2},{"sample":"IZO/IGO","t":376,"v":2.35},{"sample":"IZO/IGO","t":380,"v":1.25},{"sample":"IZO/IGO","t":384,"v":2.4},{"sample":"IZO/IGO","t":388,"v":1.2},{"sample":"IZO/IGO","t":392,"v":2.3},{"sample":"IZO/IGO","t":396,"v":1.2},{"sample":"IZO/IGO","t":400,"v":2.4},

{"sample":"CTO/IGO","t":-12,"v":0.8},{"sample":"CTO/IGO","t":-9,"v":0.7},{"sample":"CTO/IGO","t":-6,"v":1.0},{"sample":"CTO/IGO","t":-4,"v":0.8},{"sample":"CTO/IGO","t":-2.7,"v":1.9},{"sample":"CTO/IGO","t":-1.5,"v":5},{"sample":"CTO/IGO","t":-0.7,"v":100},{"sample":"CTO/IGO","t":0,"v":1000},{"sample":"CTO/IGO","t":0.5,"v":650},{"sample":"CTO/IGO","t":1,"v":450},{"sample":"CTO/IGO","t":1.5,"v":340},{"sample":"CTO/IGO","t":2,"v":275},{"sample":"CTO/IGO","t":3,"v":200},{"sample":"CTO/IGO","t":4,"v":160},{"sample":"CTO/IGO","t":5,"v":136},{"sample":"CTO/IGO","t":6,"v":121},{"sample":"CTO/IGO","t":8,"v":106},{"sample":"CTO/IGO","t":10,"v":97},{"sample":"CTO/IGO","t":12,"v":89},{"sample":"CTO/IGO","t":14,"v":79},{"sample":"CTO/IGO","t":16,"v":70},{"sample":"CTO/IGO","t":18,"v":62},{"sample":"CTO/IGO","t":20,"v":56},{"sample":"CTO/IGO","t":23,"v":49},{"sample":"CTO/IGO","t":26,"v":44},{"sample":"CTO/IGO","t":29,"v":39},{"sample":"CTO/IGO","t":32,"v":35.5},{"sample":"CTO/IGO","t":35,"v":32.5},{"sample":"CTO/IGO","t":38,"v":30},{"sample":"CTO/IGO","t":41,"v":28},{"sample":"CTO/IGO","t":44,"v":26.5},
{"sample":"CTO/IGO","t":48,"v":24.3},{"sample":"CTO/IGO","t":52,"v":24.8},{"sample":"CTO/IGO","t":56,"v":21.5},{"sample":"CTO/IGO","t":60,"v":22.3},{"sample":"CTO/IGO","t":64,"v":19.8},{"sample":"CTO/IGO","t":68,"v":20.1},{"sample":"CTO/IGO","t":72,"v":17.4},{"sample":"CTO/IGO","t":76,"v":17.9},{"sample":"CTO/IGO","t":80,"v":16.4},{"sample":"CTO/IGO","t":84,"v":15.1},{"sample":"CTO/IGO","t":88,"v":16.2},{"sample":"CTO/IGO","t":92,"v":14.0},{"sample":"CTO/IGO","t":96,"v":15.1},{"sample":"CTO/IGO","t":100,"v":13.3},{"sample":"CTO/IGO","t":104,"v":14.6},{"sample":"CTO/IGO","t":108,"v":12.4},{"sample":"CTO/IGO","t":112,"v":13.5},{"sample":"CTO/IGO","t":116,"v":11.8},{"sample":"CTO/IGO","t":120,"v":13.4},{"sample":"CTO/IGO","t":124,"v":11.2},{"sample":"CTO/IGO","t":128,"v":12.8},{"sample":"CTO/IGO","t":132,"v":10.9},{"sample":"CTO/IGO","t":136,"v":12.1},{"sample":"CTO/IGO","t":140,"v":10.0},{"sample":"CTO/IGO","t":144,"v":11.4},{"sample":"CTO/IGO","t":148,"v":9.6},{"sample":"CTO/IGO","t":152,"v":11.0},{"sample":"CTO/IGO","t":156,"v":9.2},{"sample":"CTO/IGO","t":160,"v":10.5},{"sample":"CTO/IGO","t":164,"v":8.6},{"sample":"CTO/IGO","t":168,"v":10.0},{"sample":"CTO/IGO","t":172,"v":8.2},{"sample":"CTO/IGO","t":176,"v":9.7},{"sample":"CTO/IGO","t":180,"v":7.8},{"sample":"CTO/IGO","t":184,"v":9.2},{"sample":"CTO/IGO","t":188,"v":7.3},{"sample":"CTO/IGO","t":192,"v":8.9},{"sample":"CTO/IGO","t":196,"v":7.0},{"sample":"CTO/IGO","t":200,"v":8.6},{"sample":"CTO/IGO","t":204,"v":6.6},{"sample":"CTO/IGO","t":208,"v":8.3},{"sample":"CTO/IGO","t":212,"v":6.7},{"sample":"CTO/IGO","t":216,"v":7.8},{"sample":"CTO/IGO","t":220,"v":5.9},{"sample":"CTO/IGO","t":224,"v":7.7},{"sample":"CTO/IGO","t":228,"v":6.1},{"sample":"CTO/IGO","t":232,"v":7.3},{"sample":"CTO/IGO","t":236,"v":5.4},{"sample":"CTO/IGO","t":240,"v":7.0},{"sample":"CTO/IGO","t":244,"v":5.6},{"sample":"CTO/IGO","t":248,"v":6.8},{"sample":"CTO/IGO","t":252,"v":5.0},{"sample":"CTO/IGO","t":256,"v":6.6},{"sample":"CTO/IGO","t":260,"v":5.2},{"sample":"CTO/IGO","t":264,"v":6.3},{"sample":"CTO/IGO","t":268,"v":4.7},{"sample":"CTO/IGO","t":272,"v":6.2},{"sample":"CTO/IGO","t":276,"v":4.8},{"sample":"CTO/IGO","t":280,"v":6.0},{"sample":"CTO/IGO","t":284,"v":4.4},{"sample":"CTO/IGO","t":288,"v":5.7},{"sample":"CTO/IGO","t":292,"v":4.2},{"sample":"CTO/IGO","t":296,"v":5.8},{"sample":"CTO/IGO","t":300,"v":4.3},{"sample":"CTO/IGO","t":304,"v":5.4},{"sample":"CTO/IGO","t":308,"v":3.9},{"sample":"CTO/IGO","t":312,"v":5.3},{"sample":"CTO/IGO","t":316,"v":3.8},{"sample":"CTO/IGO","t":320,"v":5.0},{"sample":"CTO/IGO","t":324,"v":3.6},{"sample":"CTO/IGO","t":328,"v":5.2},{"sample":"CTO/IGO","t":332,"v":3.7},{"sample":"CTO/IGO","t":336,"v":4.7},{"sample":"CTO/IGO","t":340,"v":3.3},{"sample":"CTO/IGO","t":344,"v":4.6},{"sample":"CTO/IGO","t":348,"v":3.5},{"sample":"CTO/IGO","t":352,"v":4.4},{"sample":"CTO/IGO","t":356,"v":3.1},{"sample":"CTO/IGO","t":360,"v":4.5},{"sample":"CTO/IGO","t":364,"v":3.2},{"sample":"CTO/IGO","t":368,"v":4.1},{"sample":"CTO/IGO","t":372,"v":3.0},{"sample":"CTO/IGO","t":376,"v":4.2},{"sample":"CTO/IGO","t":380,"v":3.1},{"sample":"CTO/IGO","t":384,"v":4.0},{"sample":"CTO/IGO","t":388,"v":2.8},{"sample":"CTO/IGO","t":392,"v":3.9},{"sample":"CTO/IGO","t":396,"v":3.0},{"sample":"CTO/IGO","t":400,"v":3.6},

{"sample":"CTO/MZO","t":-12,"v":0.7},{"sample":"CTO/MZO","t":-9,"v":1.0},{"sample":"CTO/MZO","t":-6,"v":0.8},{"sample":"CTO/MZO","t":-4,"v":0.9},{"sample":"CTO/MZO","t":-2.7,"v":1.45},{"sample":"CTO/MZO","t":-1.5,"v":5},{"sample":"CTO/MZO","t":-0.7,"v":110},{"sample":"CTO/MZO","t":0,"v":1050},{"sample":"CTO/MZO","t":0.5,"v":700},{"sample":"CTO/MZO","t":1,"v":480},{"sample":"CTO/MZO","t":1.5,"v":360},{"sample":"CTO/MZO","t":2,"v":290},{"sample":"CTO/MZO","t":3,"v":215},{"sample":"CTO/MZO","t":4,"v":170},{"sample":"CTO/MZO","t":5,"v":145},{"sample":"CTO/MZO","t":6,"v":128},{"sample":"CTO/MZO","t":8,"v":112},{"sample":"CTO/MZO","t":10,"v":103},{"sample":"CTO/MZO","t":12,"v":96},{"sample":"CTO/MZO","t":14,"v":86},{"sample":"CTO/MZO","t":16,"v":76},{"sample":"CTO/MZO","t":18,"v":67},{"sample":"CTO/MZO","t":20,"v":60},{"sample":"CTO/MZO","t":23,"v":52},{"sample":"CTO/MZO","t":26,"v":46},{"sample":"CTO/MZO","t":29,"v":41},{"sample":"CTO/MZO","t":32,"v":37},{"sample":"CTO/MZO","t":35,"v":34},{"sample":"CTO/MZO","t":38,"v":31.5},{"sample":"CTO/MZO","t":41,"v":29.5},{"sample":"CTO/MZO","t":44,"v":27.5},
{"sample":"CTO/MZO","t":48,"v":27},{"sample":"CTO/MZO","t":52,"v":22.5},{"sample":"CTO/MZO","t":56,"v":23.2},{"sample":"CTO/MZO","t":60,"v":20.8},{"sample":"CTO/MZO","t":64,"v":22.5},{"sample":"CTO/MZO","t":68,"v":18.6},{"sample":"CTO/MZO","t":72,"v":18.5},{"sample":"CTO/MZO","t":76,"v":18.2},{"sample":"CTO/MZO","t":80,"v":15.4},{"sample":"CTO/MZO","t":84,"v":16.5},{"sample":"CTO/MZO","t":88,"v":14.7},{"sample":"CTO/MZO","t":92,"v":16.0},{"sample":"CTO/MZO","t":96,"v":13.8},{"sample":"CTO/MZO","t":100,"v":15.0},{"sample":"CTO/MZO","t":104,"v":12.6},{"sample":"CTO/MZO","t":108,"v":13.9},{"sample":"CTO/MZO","t":112,"v":14.1},{"sample":"CTO/MZO","t":116,"v":12.2},{"sample":"CTO/MZO","t":120,"v":12.4},{"sample":"CTO/MZO","t":124,"v":14.8},{"sample":"CTO/MZO","t":128,"v":10.6},{"sample":"CTO/MZO","t":132,"v":12.5},{"sample":"CTO/MZO","t":136,"v":11.0},{"sample":"CTO/MZO","t":140,"v":12.0},{"sample":"CTO/MZO","t":144,"v":10.1},{"sample":"CTO/MZO","t":148,"v":11.8},{"sample":"CTO/MZO","t":152,"v":10.6},{"sample":"CTO/MZO","t":156,"v":9.8},{"sample":"CTO/MZO","t":160,"v":11.1},{"sample":"CTO/MZO","t":164,"v":9.3},{"sample":"CTO/MZO","t":168,"v":10.2},{"sample":"CTO/MZO","t":172,"v":8.5},{"sample":"CTO/MZO","t":176,"v":9.6},{"sample":"CTO/MZO","t":180,"v":9.0},{"sample":"CTO/MZO","t":184,"v":10.1},{"sample":"CTO/MZO","t":188,"v":7.6},{"sample":"CTO/MZO","t":192,"v":9.4},{"sample":"CTO/MZO","t":196,"v":8.9},{"sample":"CTO/MZO","t":200,"v":7.4},{"sample":"CTO/MZO","t":204,"v":10.4},{"sample":"CTO/MZO","t":208,"v":8.1},{"sample":"CTO/MZO","t":212,"v":8.6},{"sample":"CTO/MZO","t":216,"v":7.1},{"sample":"CTO/MZO","t":220,"v":8.9},{"sample":"CTO/MZO","t":224,"v":6.4},{"sample":"CTO/MZO","t":228,"v":9.3},{"sample":"CTO/MZO","t":232,"v":7.7},{"sample":"CTO/MZO","t":236,"v":6.6},{"sample":"CTO/MZO","t":240,"v":8.9},{"sample":"CTO/MZO","t":244,"v":6.9},{"sample":"CTO/MZO","t":248,"v":8.1},{"sample":"CTO/MZO","t":252,"v":6.0},{"sample":"CTO/MZO","t":256,"v":7.6},{"sample":"CTO/MZO","t":260,"v":7.0},{"sample":"CTO/MZO","t":264,"v":8.5},{"sample":"CTO/MZO","t":268,"v":6.3},{"sample":"CTO/MZO","t":272,"v":7.9},{"sample":"CTO/MZO","t":276,"v":6.5},{"sample":"CTO/MZO","t":280,"v":7.6},{"sample":"CTO/MZO","t":284,"v":6.0},{"sample":"CTO/MZO","t":288,"v":7.3},{"sample":"CTO/MZO","t":292,"v":5.4},{"sample":"CTO/MZO","t":296,"v":7.9},{"sample":"CTO/MZO","t":300,"v":6.2},{"sample":"CTO/MZO","t":304,"v":7.2},{"sample":"CTO/MZO","t":308,"v":5.3},{"sample":"CTO/MZO","t":312,"v":7.6},{"sample":"CTO/MZO","t":316,"v":6.0},{"sample":"CTO/MZO","t":320,"v":6.6},{"sample":"CTO/MZO","t":324,"v":5.2},{"sample":"CTO/MZO","t":328,"v":7.5},{"sample":"CTO/MZO","t":332,"v":5.8},{"sample":"CTO/MZO","t":336,"v":6.6},{"sample":"CTO/MZO","t":340,"v":5.0},{"sample":"CTO/MZO","t":344,"v":7.0},{"sample":"CTO/MZO","t":348,"v":5.6},{"sample":"CTO/MZO","t":352,"v":6.0},{"sample":"CTO/MZO","t":356,"v":4.7},{"sample":"CTO/MZO","t":360,"v":6.7},{"sample":"CTO/MZO","t":364,"v":5.3},{"sample":"CTO/MZO","t":368,"v":6.5},{"sample":"CTO/MZO","t":372,"v":4.5},{"sample":"CTO/MZO","t":376,"v":6.4},{"sample":"CTO/MZO","t":380,"v":5.1},{"sample":"CTO/MZO","t":384,"v":6.0},{"sample":"CTO/MZO","t":388,"v":4.4},{"sample":"CTO/MZO","t":392,"v":6.2},{"sample":"CTO/MZO","t":396,"v":4.9},{"sample":"CTO/MZO","t":400,"v":5.4},

{"sample":"Tec12D","t":-12,"v":1.5},{"sample":"Tec12D","t":-9,"v":1.2},{"sample":"Tec12D","t":-6,"v":1.0},{"sample":"Tec12D","t":-4,"v":1.15},{"sample":"Tec12D","t":-2.7,"v":1.3},{"sample":"Tec12D","t":-1.5,"v":4},{"sample":"Tec12D","t":-0.7,"v":90},{"sample":"Tec12D","t":0,"v":1000},{"sample":"Tec12D","t":0.5,"v":600},{"sample":"Tec12D","t":1,"v":380},{"sample":"Tec12D","t":1.5,"v":265},{"sample":"Tec12D","t":2,"v":205},{"sample":"Tec12D","t":3,"v":160},{"sample":"Tec12D","t":4,"v":138},{"sample":"Tec12D","t":5,"v":127},{"sample":"Tec12D","t":6,"v":112},{"sample":"Tec12D","t":8,"v":90},{"sample":"Tec12D","t":10,"v":76},{"sample":"Tec12D","t":12,"v":66},{"sample":"Tec12D","t":14,"v":59},{"sample":"Tec12D","t":16,"v":54},{"sample":"Tec12D","t":18,"v":49.5},{"sample":"Tec12D","t":20,"v":45},{"sample":"Tec12D","t":23,"v":40},{"sample":"Tec12D","t":26,"v":36},{"sample":"Tec12D","t":29,"v":33},{"sample":"Tec12D","t":32,"v":30},{"sample":"Tec12D","t":35,"v":28},{"sample":"Tec12D","t":38,"v":26},{"sample":"Tec12D","t":41,"v":24.5},{"sample":"Tec12D","t":44,"v":23},
{"sample":"Tec12D","t":48,"v":21.5},{"sample":"Tec12D","t":52,"v":21.0},{"sample":"Tec12D","t":56,"v":19.8},{"sample":"Tec12D","t":60,"v":20.2},{"sample":"Tec12D","t":64,"v":18.6},{"sample":"Tec12D","t":68,"v":19.0},{"sample":"Tec12D","t":72,"v":17.6},{"sample":"Tec12D","t":76,"v":18.1},{"sample":"Tec12D","t":80,"v":16.8},{"sample":"Tec12D","t":84,"v":17.3},{"sample":"Tec12D","t":88,"v":16.0},{"sample":"Tec12D","t":92,"v":16.6},{"sample":"Tec12D","t":96,"v":15.4},{"sample":"Tec12D","t":100,"v":16.1},{"sample":"Tec12D","t":104,"v":15.0},{"sample":"Tec12D","t":108,"v":15.7},{"sample":"Tec12D","t":112,"v":14.6},{"sample":"Tec12D","t":116,"v":15.2},{"sample":"Tec12D","t":120,"v":14.1},{"sample":"Tec12D","t":124,"v":14.9},{"sample":"Tec12D","t":128,"v":13.7},{"sample":"Tec12D","t":132,"v":14.6},{"sample":"Tec12D","t":136,"v":13.4},{"sample":"Tec12D","t":140,"v":14.2},{"sample":"Tec12D","t":144,"v":13.0},{"sample":"Tec12D","t":148,"v":13.9},{"sample":"Tec12D","t":152,"v":12.8},{"sample":"Tec12D","t":156,"v":13.7},{"sample":"Tec12D","t":160,"v":12.5},{"sample":"Tec12D","t":164,"v":13.4},{"sample":"Tec12D","t":168,"v":12.2},{"sample":"Tec12D","t":172,"v":13.2},{"sample":"Tec12D","t":176,"v":12.0},{"sample":"Tec12D","t":180,"v":13.0},{"sample":"Tec12D","t":184,"v":11.8},{"sample":"Tec12D","t":188,"v":12.6},{"sample":"Tec12D","t":192,"v":11.5},{"sample":"Tec12D","t":196,"v":12.5},{"sample":"Tec12D","t":200,"v":11.3},{"sample":"Tec12D","t":204,"v":12.4},{"sample":"Tec12D","t":208,"v":11.0},{"sample":"Tec12D","t":212,"v":12.0},{"sample":"Tec12D","t":216,"v":10.8},{"sample":"Tec12D","t":220,"v":11.9},{"sample":"Tec12D","t":224,"v":10.6},{"sample":"Tec12D","t":228,"v":11.7},{"sample":"Tec12D","t":232,"v":10.4},{"sample":"Tec12D","t":236,"v":11.5},{"sample":"Tec12D","t":240,"v":10.2},{"sample":"Tec12D","t":244,"v":11.4},{"sample":"Tec12D","t":248,"v":10.0},{"sample":"Tec12D","t":252,"v":11.1},{"sample":"Tec12D","t":256,"v":9.9},{"sample":"Tec12D","t":260,"v":11.0},{"sample":"Tec12D","t":264,"v":9.7},{"sample":"Tec12D","t":268,"v":10.8},{"sample":"Tec12D","t":272,"v":9.6},{"sample":"Tec12D","t":276,"v":10.6},{"sample":"Tec12D","t":280,"v":9.4},{"sample":"Tec12D","t":284,"v":10.5},{"sample":"Tec12D","t":288,"v":9.3},{"sample":"Tec12D","t":292,"v":10.4},{"sample":"Tec12D","t":296,"v":9.1},{"sample":"Tec12D","t":300,"v":10.2},{"sample":"Tec12D","t":304,"v":9.0},{"sample":"Tec12D","t":308,"v":10.0},{"sample":"Tec12D","t":312,"v":8.9},{"sample":"Tec12D","t":316,"v":9.9},{"sample":"Tec12D","t":320,"v":8.7},{"sample":"Tec12D","t":324,"v":9.8},{"sample":"Tec12D","t":328,"v":8.6},{"sample":"Tec12D","t":332,"v":9.6},{"sample":"Tec12D","t":336,"v":8.5},{"sample":"Tec12D","t":340,"v":9.5},{"sample":"Tec12D","t":344,"v":8.4},{"sample":"Tec12D","t":348,"v":9.3},{"sample":"Tec12D","t":352,"v":8.2},{"sample":"Tec12D","t":356,"v":9.2},{"sample":"Tec12D","t":360,"v":8.1},{"sample":"Tec12D","t":364,"v":9.0},{"sample":"Tec12D","t":368,"v":7.9},{"sample":"Tec12D","t":372,"v":8.8},{"sample":"Tec12D","t":376,"v":7.8},{"sample":"Tec12D","t":380,"v":8.6},{"sample":"Tec12D","t":384,"v":7.6},{"sample":"Tec12D","t":388,"v":8.5},{"sample":"Tec12D","t":392,"v":7.4},{"sample":"Tec12D","t":396,"v":8.3},{"sample":"Tec12D","t":400,"v":7.5}
]
},
"layer": [
{
  "data": {"name": "curves"},
  "mark": {"type": "line", "strokeWidth": 1.3, "clip": true},
  "encoding": {
    "x": {"field": "t", "type": "quantitative", "scale": {"domain": [-12, 400], "nice": false, "zero": false},
      "axis": {"title": "Time (ns)", "orient": "bottom", "values": [0,100,200,300,400],
        "tickSize": 7, "labelFlush": true,
        "grid": false, "domainColor": "#333", "domainWidth": 1.5, "tickColor": "#333", "tickWidth": 1.2,
        "labelFontSize": 16, "labelFontWeight": "bold", "labelColor": "#000", "labelPadding": 8,
        "titleFontSize": 18, "titleFontWeight": "bold", "titleColor": "#000", "titlePadding": 10}},
    "y": {"field": "v", "type": "quantitative", "scale": {"type": "log", "domain": [1, 2000], "nice": false},
      "axis": {"title": "PL Counts", "values": [1,2,3,4,5,6,7,8,9,10,20,30,40,50,60,70,80,90,100,200,300,400,500,600,700,800,900,1000,2000],
        "format": "d", "labelExpr": "indexof([1,10,100,1000], datum.value) >= 0 ? datum.label : ''", "labelOverlap": false,
        "tickSize": {"condition": {"test": "indexof([1,10,100,1000], datum.value) >= 0", "value": 8}, "value": 4},
        "grid": true, "gridColor": "#e9e9e9", "gridWidth": 1,
        "domainColor": "#333", "domainWidth": 1.5, "tickColor": "#333", "tickWidth": 1.2,
        "labelFontSize": 16, "labelFontWeight": "bold", "labelColor": "#000", "labelPadding": 7,
        "titleFontSize": 18, "titleFontWeight": "bold", "titleColor": "#000", "titlePadding": 14}},
    "color": {"field": "sample", "type": "nominal", "legend": null,
      "scale": {"domain": ["IRF","Tec12D","IZO/IGO","IZO/MZO","ITO/IGO","ITO/MZO","AZO/IGO","AZO/MZO","CTO/IGO","CTO/MZO"],
        "range": ["#a6a6a6","#111111","#ee22cc","#ee22cc","#22c022","#22c022","#2147e3","#2147e3","#ea1c1c","#ea1c1c"]}}
  }
},
{
  "data": {"name": "markers"},
  "transform": [{"filter": {"field": "sample", "oneOf": ["CTO/MZO","AZO/MZO","ITO/MZO","IZO/MZO"]}}],
  "mark": {"type": "point", "shape": "square", "filled": true, "size": 85, "stroke": "#333", "strokeWidth": 0.8, "opacity": 1, "clip": true},
  "encoding": {
    "x": {"field": "t", "type": "quantitative",
      "axis": {"orient": "bottom", "title": null, "labels": false, "domain": false, "grid": false,
        "values": [10,20,30,40,50,60,70,80,90,110,120,130,140,150,160,170,180,190,210,220,230,240,250,260,270,280,290,310,320,330,340,350,360,370,380,390],
        "tickSize": 4, "tickColor": "#333", "tickWidth": 1.2}},
    "y": {"field": "v", "type": "quantitative"},
    "color": {"field": "sample", "type": "nominal", "legend": null}
  }
},
{
  "data": {"name": "markers"},
  "transform": [{"filter": {"field": "sample", "oneOf": ["CTO/IGO","AZO/IGO","ITO/IGO","IZO/IGO"]}}],
  "mark": {"type": "point", "shape": "triangle-up", "filled": true, "size": 95, "stroke": "#333", "strokeWidth": 0.8, "opacity": 1, "clip": true},
  "encoding": {
    "x": {"field": "t", "type": "quantitative", "axis": null},
    "y": {"field": "v", "type": "quantitative"},
    "color": {"field": "sample", "type": "nominal", "legend": null}
  }
},
{
  "data": {"name": "markers"},
  "transform": [{"filter": {"field": "sample", "equal": "Tec12D"}}],
  "mark": {"type": "point", "shape": "circle", "filled": true, "size": 80, "stroke": "#333", "strokeWidth": 0.8, "opacity": 1, "clip": true},
  "encoding": {
    "x": {"field": "t", "type": "quantitative", "axis": null},
    "y": {"field": "v", "type": "quantitative"},
    "color": {"field": "sample", "type": "nominal", "legend": null}
  }
},
{
  "data": {"name": "table"},
  "mark": {"type": "point", "filled": true},
  "encoding": {
    "shape": {"field": "sample", "type": "nominal",
      "scale": {"domain": ["Sample ID","CTO/MZO","CTO/IGO","AZO/MZO","AZO/IGO","ITO/MZO","ITO/IGO","IZO/MZO","IZO/IGO","Tec12D","IRF"],
        "range": ["M0,0","M-2.9,0H2.9M-1,-1H1V1H-1Z","M-2.9,0H2.9M0,-1.15L1.1,0.85H-1.1Z","M-2.9,0H2.9M-1,-1H1V1H-1Z","M-2.9,0H2.9M0,-1.15L1.1,0.85H-1.1Z","M-2.9,0H2.9M-1,-1H1V1H-1Z","M-2.9,0H2.9M0,-1.15L1.1,0.85H-1.1Z","M-2.9,0H2.9M-1,-1H1V1H-1Z","M-2.9,0H2.9M0,-1.15L1.1,0.85H-1.1Z","M-2.9,0H2.9M-1,0A1,1 0 1,1 1,0A1,1 0 1,1 -1,0Z","M-2.9,0H2.9"]},
      "legend": {"title": null, "legendX": 315.5, "legendY": 1, "rowPadding": 1.7, "symbolOpacity": 1, "zindex": 2}},
    "fill": {"field": "sample", "type": "nominal",
      "scale": {"domain": ["Sample ID","CTO/MZO","CTO/IGO","AZO/MZO","AZO/IGO","ITO/MZO","ITO/IGO","IZO/MZO","IZO/IGO","Tec12D","IRF"],
        "range": ["transparent","#ea1c1c","#ea1c1c","#2147e3","#2147e3","#22c022","#22c022","#ee22cc","#ee22cc","#111111","#a6a6a6"]},
      "legend": {"title": null, "legendX": 315.5, "legendY": 1, "rowPadding": 1.7, "symbolOpacity": 1, "zindex": 2}},
    "stroke": {"field": "sample", "type": "nominal",
      "scale": {"domain": ["Sample ID","CTO/MZO","CTO/IGO","AZO/MZO","AZO/IGO","ITO/MZO","ITO/IGO","IZO/MZO","IZO/IGO","Tec12D","IRF"],
        "range": ["transparent","#ea1c1c","#ea1c1c","#2147e3","#2147e3","#22c022","#22c022","#ee22cc","#ee22cc","#111111","#a6a6a6"]},
      "legend": {"title": null, "legendX": 315.5, "legendY": 1, "rowPadding": 1.7, "symbolOpacity": 1, "zindex": 2}},
    "opacity": {"field": "sample", "type": "nominal",
      "scale": {"domain": ["c0","\u03c4\u2081(ns)","CTO/MZO","CTO/IGO","AZO/MZO","AZO/IGO","ITO/MZO","ITO/IGO","IZO/MZO","IZO/IGO","Tec12D","IRF"], "range": [0, 0]},
      "legend": {"title": null, "legendX": 381.5, "legendY": 1, "symbolOpacity": 0, "zindex": 2,
        "labelExpr": "datum.label == 'c0' ? '' : (indexof(pluck(data('table'),'sample'), datum.label) >= 0 ? pluck(data('table'),'tau1')[indexof(pluck(data('table'),'sample'), datum.label)] : datum.label)"}},
    "strokeWidth": {"field": "sample", "type": "nominal",
      "scale": {"domain": ["d0","\u03c4\u2082(ns)","CTO/MZO","CTO/IGO","AZO/MZO","AZO/IGO","ITO/MZO","ITO/IGO","IZO/MZO","IZO/IGO","Tec12D"], "range": [0, 0]},
      "legend": {"title": null, "legendX": 432.5, "legendY": 1, "symbolOpacity": 0, "zindex": 2,
        "labelExpr": "datum.label == 'd0' ? '' : (indexof(pluck(data('table'),'sample'), datum.label) >= 0 ? pluck(data('table'),'tau2')[indexof(pluck(data('table'),'sample'), datum.label)] : datum.label)"}},
    "strokeDash": {"field": "sample", "type": "nominal",
      "scale": {"domain": ["A\u2082/A\u2081","CTO/MZO","CTO/IGO","AZO/MZO","AZO/IGO","ITO/MZO","ITO/IGO","IZO/MZO","IZO/IGO","Tec12D","IRF"], "range": [[1, 0]]},
      "legend": {"title": null, "legendX": 311, "legendY": 1, "symbolOpacity": 0, "labelOffset": 184, "zindex": 1,
        "fillColor": "#dddddd", "strokeColor": "#444444",
        "labelExpr": "(indexof(pluck(data('table'),'sample'), datum.label) >= 0 ? pluck(data('table'),'ratio')[indexof(pluck(data('table'),'sample'), datum.label)] : datum.label) + '\u00a0\u00a0\u00a0\u00a0\u00a0\u00a0\u00a0\u00a0\u00a0\u00a0'"}}
  }
}
]
}
